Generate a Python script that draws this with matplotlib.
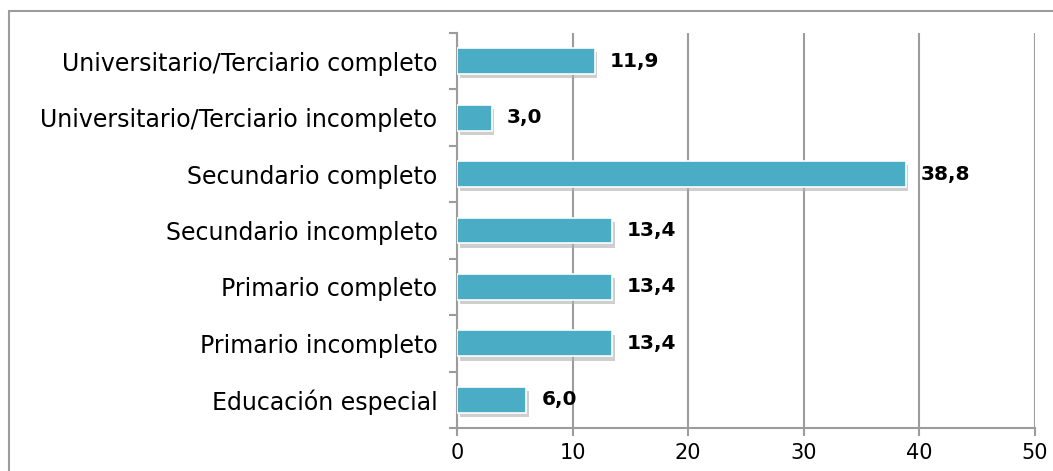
import matplotlib
matplotlib.use("Agg")
import matplotlib.pyplot as plt
import matplotlib.patheffects as pe
from matplotlib.patches import Rectangle

# niveles educativos (de abajo hacia arriba) y porcentajes
niveles = [
    "Educación especial",
    "Primario incompleto",
    "Primario completo",
    "Secundario incompleto",
    "Secundario completo",
    "Universitario/Terciario incompleto",
    "Universitario/Terciario completo",
]
porcentajes = [6.0, 13.4, 13.4, 13.4, 38.8, 3.0, 11.9]
ticks_x = [0, 10, 20, 30, 40, 50]

plt.rcParams['font.family'] = ['DejaVu Sans']

color_barra = '#4BACC6'
color_gris = '#9c9c9c'

fig = plt.figure(figsize=(10.53, 4.71), dpi=100)
ax = fig.add_axes([457 / 1053, 1 - 428 / 471, (1035 - 457) / 1053, (428 - 33) / 471])

# marco exterior del grafico (el borde derecho e inferior quedan fuera)
fig.patches.append(Rectangle((9 / 1053, -0.05), 1.0, (1 - 11 / 471) + 0.05,
                             transform=fig.transFigure, fill=False,
                             edgecolor=color_gris, linewidth=1.5))

y = list(range(len(niveles)))
barras = ax.barh(y, porcentajes, height=0.46, color=color_barra,
                 edgecolor='white', linewidth=1.2, zorder=3)
for b in barras:
    b.set_path_effects([pe.SimplePatchShadow(offset=(2, -3), shadow_rgbFace='#b0b0b0', alpha=0.6),
                        pe.Normal()])

for yi, v in zip(y, porcentajes):
    ax.annotate(f"{v:.1f}".replace('.', ','), xy=(v, yi), xytext=(15, 0),
                textcoords='offset pixels',
                va='center', ha='left', fontsize=14.5, fontweight='semibold',
                color='black', zorder=4)

ax.set_xlim(0, 50)
ax.set_ylim(-0.5, len(niveles) - 0.5)
ax.set_xticks(ticks_x)
ax.set_yticks([i - 0.5 for i in range(len(niveles) + 1)], minor=False)
ax.set_yticklabels([])
ax.set_yticks(y, minor=True)
ax.set_yticklabels(niveles, minor=True)
ax.tick_params(axis='y', which='minor', length=0, labelsize=17, pad=14)
ax.tick_params(axis='y', which='major', length=6, width=1.5, color=color_gris)
ax.tick_params(axis='x', length=6, width=1.5, color=color_gris, labelsize=15, pad=5)

ax.grid(axis='x', color=color_gris, linewidth=1.5, zorder=0)
ax.set_axisbelow(True)
for s in ['top', 'right']:
    ax.spines[s].set_visible(False)
for s in ['left', 'bottom']:
    ax.spines[s].set_color(color_gris)
    ax.spines[s].set_linewidth(1.5)

fig.savefig('out.png', dpi=100)
